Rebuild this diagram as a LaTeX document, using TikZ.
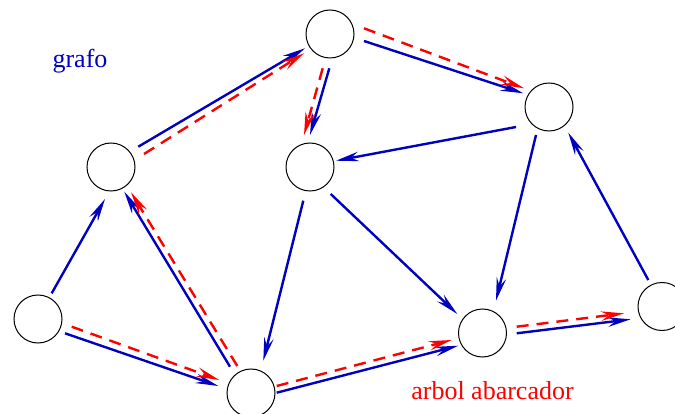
\documentclass[tikz,border=0pt]{standalone}
\usepackage{fontspec}
\setmainfont{Liberation Serif}
\usetikzlibrary{arrows.meta,calc}

\definecolor{edgeblue}{RGB}{0,0,192}
\definecolor{treered}{RGB}{255,0,0}

\tikzset{
  headtip/.style={-{Stealth[length=23pt,width=9.5pt,inset=8pt]}},
  vertex/.style={circle,draw=black,line width=1pt,minimum size=48pt,inner sep=0pt},
  edge/.style={draw=edgeblue,line width=2.4pt,headtip},
  treeedge/.style={draw=treered,line width=2.4pt,dash pattern=on 12pt off 8pt,headtip},
  lbl/.style={font=\fontsize{26}{31}\selectfont,anchor=base,inner sep=0pt}
}

\begin{document}
\begin{tikzpicture}[x=1pt,y=-1pt]
\useasboundingbox (0,0) rectangle (675,414);

% vertices
\node[vertex] (A) at (38,319) {};
\node[vertex] (B) at (111,167) {};
\node[vertex] (C) at (330,34) {};
\node[vertex] (D) at (310,167) {};
\node[vertex] (E) at (549,107) {};
\node[vertex] (F) at (251,393) {};
\node[vertex] (G) at (482.5,333) {};
\node[vertex] (H) at (662,306.5) {};

% edges of the graph
\draw[edge] ($(A)+(13.7,-25.7)$) -- ($(B)+(-6,32)$);
\draw[edge] ($(A)+(27,14.3)$) -- ($(F)+(-32.7,-7)$);
\draw[edge] ($(F)+(-21,-26.3)$) -- ($(B)+(13.3,24.7)$);
\draw[edge] ($(B)+(27.3,-20.3)$) -- ($(C)+(-25,14.3)$);
\draw[edge] ($(C)+(-0.7,34.3)$) -- ($(D)+(0,-32)$);
\draw[edge] ($(C)+(34,7)$) -- ($(E)+(-25.7,-13.7)$);
\draw[edge] ($(E)+(-33,20)$) -- ($(D)+(26,-6.3)$);
\draw[edge] ($(D)+(-6.7,33.7)$) -- ($(F)+(12.3,-32.3)$);
\draw[edge] ($(D)+(20.7,27)$) -- ($(G)+(-25.2,-19)$);
\draw[edge] ($(E)+(-13,28)$) -- ($(G)+(13.5,-32.3)$);
\draw[edge] ($(F)+(25.7,-0.3)$) -- ($(G)+(-24.2,12.7)$);
\draw[edge] ($(G)+(34.2,0.3)$) -- ($(H)+(-31.3,12.8)$);
\draw[edge] ($(H)+(-13.7,-26.5)$) -- ($(E)+(19.3,25.7)$);

% spanning tree
\draw[treeedge] ($(A)+(33.7,7.7)$) -- ($(F)+(-31.7,-13)$);
\draw[treeedge] ($(F)+(-13.7,-27)$) -- ($(B)+(20,25.3)$);
\draw[treeedge] ($(B)+(33,-13)$) -- ($(C)+(-26,19.3)$);
\draw[treeedge] ($(C)+(-7.3,34.3)$) -- ($(D)+(-6,-32)$);
\draw[treeedge] ($(C)+(34,-5.7)$) -- ($(E)+(-25,-18.7)$);
\draw[treeedge] ($(F)+(25.7,-7)$) -- ($(G)+(-30.8,7)$);
\draw[treeedge] ($(G)+(34.2,-6.3)$) -- ($(H)+(-38,6.8)$);

% labels
\node[lbl,text=edgeblue] (grafo) at (80,67.3) {grafo};
\node[lbl,text=treered] (arbol) at (492.5,399.3) {arbol abarcador};
\end{tikzpicture}
\end{document}
